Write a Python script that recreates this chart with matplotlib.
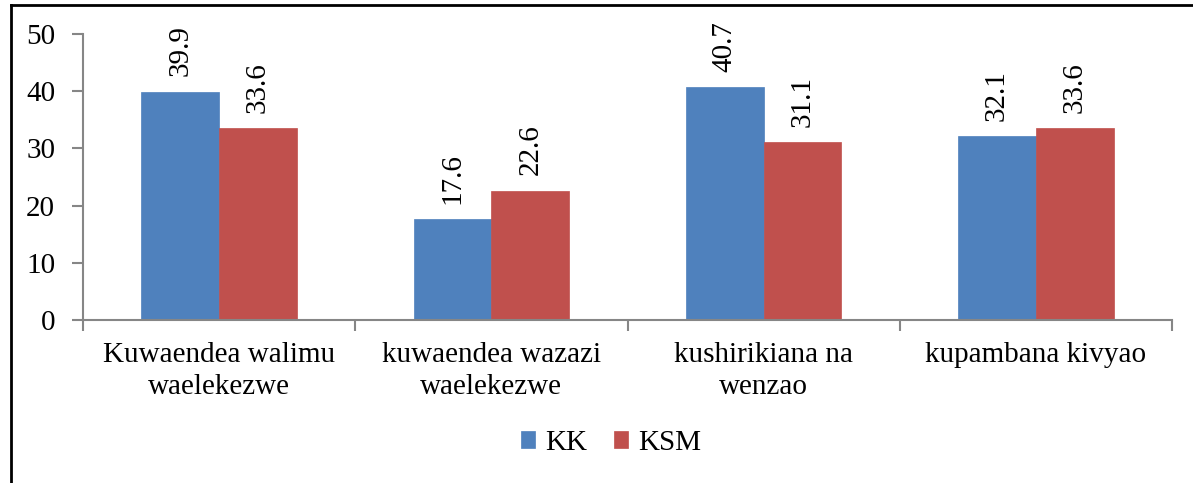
import matplotlib
matplotlib.use("Agg")
import matplotlib.pyplot as plt
from matplotlib.lines import Line2D
import numpy as np

categories = ["Kuwaendea walimu\nwaelekezwe", "kuwaendea wazazi\nwaelekezwe",
              "kushirikiana na\nwenzao", "kupambana kivyao"]
series_names = ["KK", "KSM"]
kk_values = [39.9, 17.6, 40.7, 32.1]
ksm_values = [33.6, 22.6, 31.1, 33.6]
y_ticks = [0, 10, 20, 30, 40, 50]

colors = ["#4F81BD", "#C0504D"]
axis_gray = "#868686"

plt.rcParams['font.family'] = ['Liberation Serif', 'DejaVu Serif']

fig = plt.figure(figsize=(11.93, 4.83), dpi=100)
ax = fig.add_axes([83/1193, 1-320/483, (1172-83)/1193, (320-34)/483])

x = np.arange(len(categories))
w = 1/3.5
fs = 21
for i, (name, vals) in enumerate(zip(series_names, [kk_values, ksm_values])):
    offs = (i - 0.5) * w
    bars = ax.bar(x + offs, vals, width=w, color=colors[i], label=name,
                  edgecolor=colors[i], linewidth=0.5)
    for xi, v in zip(x, vals):
        ax.annotate(f"{v}", (xi + offs, v), xytext=(0, 11), textcoords="offset points",
                    rotation=90, ha="center", va="bottom", fontsize=fs)

ax.set_xlim(-0.5, len(categories) - 0.5)
ax.set_ylim(0, 50)
ax.set_yticks(y_ticks)
ax.set_xticks(np.arange(len(categories) + 1) - 0.5)
ax.set_xticklabels([])
ax.set_xticks(x, minor=True)
ax.set_xticklabels(categories, minor=True, fontsize=fs, linespacing=1.3)
ax.tick_params(axis="x", which="major", length=8, color=axis_gray, width=1.5, direction="out")
ax.tick_params(axis="x", which="minor", length=0, pad=16)
ax.tick_params(axis="y", length=8, color=axis_gray, width=1.5, direction="out", labelsize=fs, pad=12)

for s in ["top", "right"]:
    ax.spines[s].set_visible(False)
for s in ["left", "bottom"]:
    ax.spines[s].set_color(axis_gray)
    ax.spines[s].set_linewidth(1.5)

leg = fig.legend(loc="center", bbox_to_anchor=(611/1193, 1-443/483), ncol=2, frameon=False,
                 fontsize=fs, handlelength=0.5, handleheight=0.5, handletextpad=0.35,
                 columnspacing=0.9)

# figure border lines (top and left)
fig.add_artist(Line2D([11/1193, 1.0], [1-5/483, 1-5/483], color="black", linewidth=2,
                      transform=fig.transFigure))
fig.add_artist(Line2D([11/1193, 11/1193], [1-5/483, 0.0], color="black", linewidth=2,
                      transform=fig.transFigure))

fig.savefig("out.png", dpi=100, facecolor="white")
